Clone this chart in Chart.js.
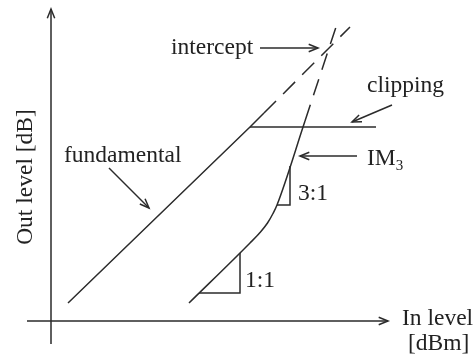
<!DOCTYPE html>
<html>
<head>
<meta charset="utf-8">
<script src="https://cdn.jsdelivr.net/npm/chart.js@4.4.1/dist/chart.umd.min.js"></script>
<style>
  html, body { margin: 0; padding: 0; background: #fff; }
  #wrap { width: 475px; height: 361px; }
</style>
</head>
<body>
<div id="wrap"><canvas id="chart" width="475" height="361"></canvas></div>
<script>
// curves, in level / out level units (dB)
const fundamental = [{ x: 1.7, y: 1.8 }, { x: 19.9, y: 19.4 }, { x: 21.3, y: 20.8 }];
const fundamentalExt = [{ x: 21.3, y: 20.8 }, { x: 29.9, y: 29.4 }];
const clipping = [{ x: 19.9, y: 19.4 }, { x: 32.5, y: 19.4 }];
const im3 = [
  { x: 13.8, y: 1.8 }, { x: 19.9, y: 7.8 }, { x: 20.9, y: 8.85 },
  { x: 21.65, y: 9.8 }, { x: 22.2, y: 10.75 }, { x: 22.6, y: 11.6 }, { x: 25.4, y: 20.0 }
];
const im3Ext = [{ x: 25.4, y: 20.0 }, { x: 28.5, y: 29.4 }];
const slope1 = [{ x: 14.8, y: 2.8 }, { x: 18.9, y: 2.8 }, { x: 18.9, y: 6.8 }];
const slope3 = [{ x: 22.6, y: 11.6 }, { x: 23.9, y: 11.6 }, { x: 23.9, y: 15.5 }];

// labels and arrows
const labels = [
  { text: "intercept", x: 12.0, y: 26.7 },
  { text: "clipping", x: 31.6, y: 22.9 },
  { text: "fundamental", x: 1.3, y: 15.9 },
  { text: "3:1", x: 24.7, y: 12.1 },
  { text: "1:1", x: 19.4, y: 3.4 },
  { text: "In level", x: 35.1, y: -0.4 },
  { text: "[dBm]", x: 35.7, y: -2.9 }
];
const arrows = [
  [{ x: 20.9, y: 27.3 }, { x: 26.7, y: 27.3 }],
  [{ x: 34.1, y: 21.6 }, { x: 30.1, y: 19.9 }],
  [{ x: 5.8, y: 15.3 }, { x: 9.8, y: 11.3 }],
  [{ x: 30.6, y: 16.5 }, { x: 24.9, y: 16.5 }]
];

const ink = "#2b2b2b";
const font = "23.5px 'Liberation Serif', 'Times New Roman', serif";

function line(data, dash) {
  return {
    data: data,
    borderColor: ink,
    borderWidth: 1.5,
    borderDash: dash || [],
    pointRadius: 0,
    fill: false,
    tension: 0
  };
}

function arrowHead(ctx, x0, y0, x1, y1) {
  const a = Math.atan2(y1 - y0, x1 - x0);
  const len = 10, spread = 0.38;
  ctx.beginPath();
  ctx.moveTo(x1 - len * Math.cos(a - spread), y1 - len * Math.sin(a - spread));
  ctx.lineTo(x1, y1);
  ctx.lineTo(x1 - len * Math.cos(a + spread), y1 - len * Math.sin(a + spread));
  ctx.stroke();
}

const decorations = {
  id: "decorations",
  afterDatasetsDraw(chart) {
    const ctx = chart.ctx;
    const sx = chart.scales.x, sy = chart.scales.y;
    const px = v => sx.getPixelForValue(v);
    const py = v => sy.getPixelForValue(v);

    ctx.save();
    ctx.strokeStyle = ink;
    ctx.fillStyle = "#222";
    ctx.lineWidth = 1.5;

    // axes
    ctx.beginPath();
    ctx.moveTo(px(-2.4), py(0));
    ctx.lineTo(px(33.7), py(0));
    ctx.moveTo(px(0), py(-2.3));
    ctx.lineTo(px(0), py(31.2));
    ctx.stroke();
    arrowHead(ctx, px(0), py(0), px(33.7), py(0));
    arrowHead(ctx, px(0), py(0), px(0), py(31.2));

    // pointer arrows
    arrows.forEach(([a, b]) => {
      ctx.beginPath();
      ctx.moveTo(px(a.x), py(a.y));
      ctx.lineTo(px(b.x), py(b.y));
      ctx.stroke();
      arrowHead(ctx, px(a.x), py(a.y), px(b.x), py(b.y));
    });

    ctx.font = font;
    ctx.textBaseline = "alphabetic";
    ctx.textAlign = "left";
    labels.forEach(l => ctx.fillText(l.text, px(l.x), py(l.y)));

    // IM3 with subscript
    const imX = px(31.6);
    ctx.fillText("IM", imX, py(15.6));
    const imW = ctx.measureText("IM").width;
    ctx.font = "15px 'Liberation Serif', serif";
    ctx.fillText("3", imX + imW, py(15.1));

    // y axis title
    ctx.font = font;
    ctx.translate(px(-1.9), py(14.4));
    ctx.rotate(-Math.PI / 2);
    ctx.textAlign = "center";
    ctx.fillText("Out level [dB]", 0, 0);
    ctx.restore();
  }
};

new Chart(document.getElementById("chart"), {
  type: "line",
  data: {
    datasets: [
      line(fundamental),
      line(fundamentalExt, [17, 10]),
      line(clipping),
      Object.assign(line(im3), { cubicInterpolationMode: "monotone" }),
      line(im3Ext, [17, 10]),
      line(slope1),
      line(slope3)
    ]
  },
  options: {
    responsive: false,
    animation: false,
    layout: { padding: 0 },
    plugins: { legend: { display: false }, tooltip: { enabled: false } },
    scales: {
      x: { type: "linear", min: -5.1, max: 42.4, display: false },
      y: { type: "linear", min: -4, max: 32.1, display: false }
    }
  },
  plugins: [decorations]
});
</script>
</body>
</html>
